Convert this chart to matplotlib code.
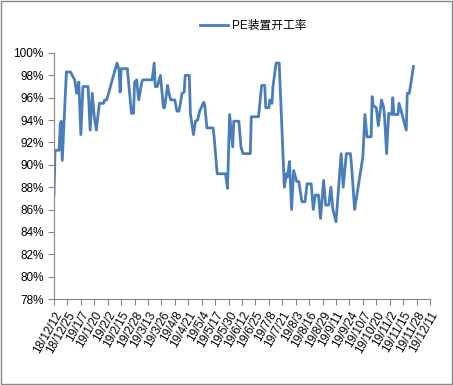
import matplotlib
matplotlib.use('Agg')
import matplotlib.pyplot as plt
from matplotlib.patches import Rectangle
from matplotlib.transforms import ScaledTranslation

plt.rcParams['font.family'] = ['Liberation Sans', 'Noto Sans CJK SC', 'DejaVu Sans']

# days since 2018-12-12 and PE plant operating rate (%)
days = [0, 1, 5, 6, 7, 8, 12, 16, 20, 22, 24, 26, 28, 33, 35, 37, 39, 41, 42, 44,
        48, 49, 51, 61, 63, 64, 65, 71, 75, 77, 78, 80, 82, 85, 86, 95, 97, 98, 100, 103,
        106, 107, 110, 111, 113, 117, 119, 121, 124, 126, 127, 131, 132, 135, 137, 139, 141, 145, 146, 148,
        154, 155, 158, 166, 168, 170, 173, 174, 179, 181, 183, 190, 191, 198, 201, 204, 205, 208, 209, 211,
        212, 215, 218, 223, 225, 226, 228, 230, 232, 235, 237, 240, 243, 245, 249, 251, 253, 256, 258, 261,
        263, 266, 268, 270, 273, 278, 280, 283, 287, 288, 291, 299, 301, 303, 307, 308, 309, 312, 314, 317,
        319, 320, 322, 324, 327, 328, 329, 333, 334, 337, 341, 342, 344, 348]
rate = [87.3, 91.3, 91.3, 93.6, 93.9, 90.4, 98.3, 98.3, 97.6, 96.4, 97.4, 92.7, 97.0, 97.0, 93.1, 96.4, 94.3, 93.1, 94.0, 95.5,
        95.5, 95.8, 95.8, 99.1, 98.5, 96.5, 98.6, 98.6, 94.6, 94.6, 97.4, 97.6, 95.8, 97.4, 97.6, 97.6, 99.1, 97.0, 97.0, 98.0,
        95.1, 95.1, 97.1, 96.5, 95.8, 95.8, 94.8, 94.8, 96.4, 96.5, 98.0, 98.0, 94.6, 92.7, 93.9, 94.0, 94.8, 95.6, 95.3, 93.3,
        93.3, 92.5, 89.2, 89.2, 87.9, 94.5, 91.6, 93.9, 93.9, 91.6, 91.0, 91.0, 94.3, 94.3, 97.1, 97.1, 95.1, 95.1, 95.8, 95.5,
        97.0, 99.1, 99.1, 88.0, 89.2, 88.9, 90.3, 86.0, 89.5, 88.5, 88.5, 86.7, 86.7, 88.3, 88.3, 86.0, 87.3, 87.3, 85.2, 88.6,
        86.4, 86.4, 88.0, 86.0, 84.9, 91.0, 88.0, 91.0, 91.0, 90.0, 86.0, 90.7, 94.5, 92.5, 92.5, 96.1, 95.3, 95.1, 93.5, 95.8,
        95.2, 94.3, 91.0, 94.6, 94.5, 96.0, 94.5, 94.5, 95.5, 94.5, 93.1, 96.4, 96.4, 98.8]

tick_labels = ['18/12/12', '18/12/25', '19/1/7', '19/1/20', '19/2/2', '19/2/15', '19/2/28',
               '19/3/13', '19/3/26', '19/4/8', '19/4/21', '19/5/4', '19/5/17', '19/5/30',
               '19/6/12', '19/6/25', '19/7/8', '19/7/21', '19/8/3', '19/8/16', '19/8/29',
               '19/9/11', '19/9/24', '19/10/7', '19/10/20', '19/11/2', '19/11/15',
               '19/11/28', '19/12/11']
tick_pos = [i * 13 for i in range(len(tick_labels))]

fig = plt.figure(figsize=(4.53, 3.85), dpi=100)
ax = fig.add_axes([54 / 453, 1 - 299 / 385, 376 / 453, 246 / 385])

ax.plot(days, rate, color='#4A7EBB', linewidth=2.0, label='PE装置开工率')

ax.set_xlim(0, 364)
ax.set_ylim(78, 100)
ax.set_yticks(range(78, 101, 2))
ax.set_yticklabels([f'{v}%' for v in range(78, 101, 2)], fontsize=8.5)
ax.set_xticks(tick_pos)
ax.set_xticklabels(tick_labels, fontsize=8.5, rotation=60, ha='right', va='top',
                   rotation_mode='anchor')
# nudge the slanted labels like Excel places them
shift = ScaledTranslation(5 / 100, -14 / 100, fig.dpi_scale_trans)
for lab in ax.get_xticklabels():
    lab.set_transform(lab.get_transform() + shift)

for side in ['top', 'right']:
    ax.spines[side].set_visible(False)
for side in ['left', 'bottom']:
    ax.spines[side].set_color('#868686')
ax.tick_params(axis='both', colors='#868686', length=4, labelcolor='black')

ax.legend(loc='center', bbox_to_anchor=(253 / 453, 1 - 26 / 385),
          bbox_transform=fig.transFigure, frameon=False, fontsize=8.5,
          handlelength=2.4, handletextpad=0.3)

# grey chart border
fig.patches.append(Rectangle((0.002, 0.003), 0.995, 0.994, transform=fig.transFigure,
                             fill=False, edgecolor='#868686', linewidth=1))

fig.savefig('out.png', dpi=100)
